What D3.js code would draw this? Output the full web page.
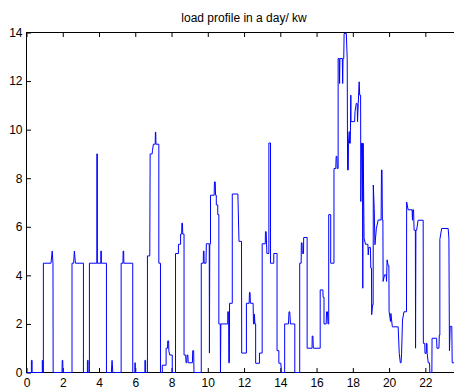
<!DOCTYPE html>
<html>
<head>
<meta charset="utf-8">
<script src="https://cdn.jsdelivr.net/npm/d3@7"></script>
<style>
  html, body { margin: 0; padding: 0; background: #fff; overflow: hidden; }
  svg { display: block; }
  text { font-family: "Liberation Sans", Arial, sans-serif; font-size: 12px; fill: #000; }
</style>
</head>
<body>
<svg id="chart" width="454" height="389"></svg>
<script>
// Title and axis ticks
const chartTitle = "load profile in a day/ kw";
const xTickValues = [0, 2, 4, 6, 8, 10, 12, 14, 16, 18, 20, 22];
const yTickValues = [0, 2, 4, 6, 8, 10, 12, 14];

// Load over the day: [hour, kW] breakpoints, joined by straight segments
const profileKw = [
  [0,0],
  [0.27,0],[0.27,0.5],[0.31,0.5],[0.31,0],
  [0.87,0],[0.87,0.5],[0.9,0.5],[0.9,0],
  [0.93,0],[0.93,4.5],
  [1.35,4.5],[1.42,5.0],[1.46,4.5],[1.47,0],
  [1.96,0],[1.97,0.5],[2.0,0.5],[2.01,0],
  [2.51,0],[2.51,4.5],[2.6,4.5],[2.64,5.0],[2.7,4.5],[3.14,4.5],[3.14,0],
  [3.36,0],[3.36,0.5],[3.4,0.5],[3.4,0],[3.47,0],[3.47,4.5],
  [3.88,4.5],[3.88,9.0],[3.91,9.0],[3.91,4.5],
  [4.1,4.5],[4.1,5.0],[4.13,5.0],[4.13,4.5],
  [4.41,4.5],[4.41,0],
  [4.68,0],[4.72,0.5],[4.76,0],
  [5.22,0],[5.22,4.5],[5.32,4.5],[5.33,5.0],[5.36,5.0],[5.37,4.5],[5.86,4.5],[5.86,0],
  [5.98,0],[5.98,0.4],[6.0,0.4],[6.0,0],
  [6.53,0],[6.53,0.5],[6.57,0.5],[6.57,0],
  [6.67,0],[6.67,4.8],[6.8,4.8],[6.82,9.0],[6.93,9.0],[6.95,9.15],[7.0,9.4],[7.1,9.4],[7.11,9.9],[7.13,9.9],[7.14,9.4],[7.3,9.4],[7.3,4.5],[7.39,4.5],[7.39,0],
  [7.49,0],[7.49,0.3],[7.7,0.3],[7.7,1.0],[7.78,1.0],[7.79,1.3],[7.84,1.3],[7.85,0.9],[7.9,0.72],[8.04,0.72],[8.04,0],
  [8.22,0],[8.22,4.9],[8.38,4.9],[8.38,5.28],[8.5,5.28],[8.5,5.7],[8.56,5.7],[8.57,6.15],[8.6,6.15],[8.62,5.7],[8.69,5.7],[8.69,0.72],
  [8.78,0.72],[8.8,0.4],[8.84,0.4],[8.86,0.72],[8.9,0.72],[8.92,0.4],[9.15,0.4],[9.17,0.9],[9.22,0.9],[9.24,0],
  [9.64,0],[9.64,4.5],[9.75,4.5],[9.76,5.0],[9.79,5.0],[9.8,4.5],[9.9,4.5],[9.92,5.3],[10.08,5.3],[10.09,0.8],[10.11,5.3],[10.15,5.3],[10.15,7.3],
  [10.35,7.3],[10.37,7.85],[10.41,7.85],[10.43,7.3],[10.47,7.3],[10.47,6.9],[10.55,6.9],[10.55,6.5],[10.61,6.5],[10.61,2.0],
  [10.69,2.0],[10.7,0],[10.72,2.0],[11.1,2.0],[11.1,2.5],[11.15,2.5],[11.16,0.4],[11.19,0.4],[11.2,2.85],[11.35,2.85],[11.35,7.35],
  [11.66,7.35],[11.72,5.4],[11.86,5.4],[11.87,0.8],
  [12.13,0.8],[12.13,2.85],[12.28,2.85],[12.3,3.3],[12.33,3.3],[12.35,2.85],[12.5,2.85],[12.52,2.0],[12.56,2.0],[12.57,2.4],[12.6,2.0],[12.64,2.0],[12.64,0.38],
  [12.85,0.38],[12.85,0.8],[13.0,0.8],[13.0,5.3],[13.17,5.3],[13.18,5.8],[13.22,5.8],[13.26,4.9],[13.37,4.9],[13.37,9.45],[13.46,9.45],[13.46,4.5],
  [13.64,4.5],[13.64,4.9],[13.82,4.9],[13.82,0.9],[13.92,0.9],[13.92,0.38],[14.03,0.38],[14.06,0],
  [14.24,0],[14.24,2.0],[14.45,2.0],[14.48,2.5],[14.52,2.5],[14.56,2.0],[14.8,2.0],[14.8,0],
  [15.07,0],[15.07,4.5],[15.15,4.5],[15.16,5.34],[15.2,5.34],[15.21,4.9],[15.28,4.9],[15.29,5.56],[15.48,5.56],[15.48,1.0],
  [15.75,1.0],[15.76,1.5],[15.8,1.5],[15.82,1.0],[16.2,1.0],[16.2,3.4],[16.35,3.4],[16.36,3.1],[16.41,3.1],[16.41,2.0],
  [16.53,2.0],[16.55,2.5],[16.6,2.5],[16.63,2.0],[16.67,2.0],[16.67,6.5],[16.78,6.5],[16.78,4.5],[16.96,4.5],[16.96,8.4],
  [17.06,8.4],[17.08,8.9],[17.12,8.9],[17.14,8.4],[17.19,8.4],[17.19,12.93],[17.25,12.93],[17.27,11.9],[17.29,12.93],
  [17.42,12.93],[17.44,11.9],[17.46,12.93],[17.5,12.93],[17.52,13.96],[17.64,13.96],[17.69,12.93],[17.71,8.34],
  [17.75,8.34],[17.76,9.44],[17.8,9.92],[17.82,9.44],[17.86,9.44],[17.89,11.42],[17.9,10.33],[18.1,10.33],[18.12,10.74],
  [18.19,11.08],[18.24,11.08],[18.26,10.33],[18.3,11.08],[18.35,11.97],[18.38,11.42],[18.43,11.42],[18.44,7.04],
  [18.48,9.44],[18.53,9.44],[18.55,3.47],[18.57,9.44],[18.62,5.53],[18.7,5.28],[18.83,5.28],[18.85,4.84],[18.88,5.15],
  [18.97,5.15],[18.99,4.3],[19.03,4.3],[19.04,2.38],[19.09,2.79],[19.12,2.79],[19.13,7.72],[19.18,6.76],[19.22,5.26],
  [19.3,5.94],[19.4,6.28],[19.56,6.28],[19.58,8.34],[19.61,8.34],[19.63,6.28],[19.66,6.28],[19.67,3.75],[19.75,4.02],
  [19.84,4.02],[19.86,3.75],[19.89,4.64],[19.95,4.4],[19.99,4.4],[20.0,2.52],[20.08,2.1],[20.1,2.43],[20.18,1.88],
  [20.5,1.88],[20.56,0.79],[20.62,0.4],[20.66,0.4],[20.69,0.79],[20.74,2.16],[20.82,2.5],[20.96,2.5],[20.97,7.02],
  [21.05,6.7],[21.27,6.7],[21.29,6.27],[21.31,6.7],[21.35,6.7],[21.38,5.86],[21.45,5.86],[21.46,1.0],[21.48,5.86],
  [21.52,5.86],[21.6,6.27],[21.88,6.27],[21.89,1.2],[21.97,1.2],[21.98,0.79],[22.05,0.79],[22.06,1.2],[22.09,1.2],
  [22.1,0.79],[22.16,0.4],[22.23,0.4],[22.25,0],[22.36,0],[22.37,1.41],[22.62,1.41],[22.64,1.0],[22.75,1.0],
  [22.77,1.54],[22.8,1.54],[22.8,5.48],[22.9,5.93],[23.26,5.93],[23.3,5.5],[23.33,0.9],[23.37,1.9],[23.46,1.9],
  [23.48,0.4],[24,0.4]
];

const svg = d3.select("#chart");
const box = { left: 26.5, right: 461.6, top: 32.5, bottom: 372.5 };

const x = d3.scaleLinear().domain([0, 24]).range([box.left, box.right]);
const y = d3.scaleLinear().domain([0, 14]).range([box.bottom, box.top]);

// Title
svg.append("text")
  .attr("x", (box.left + box.right) / 2)
  .attr("y", 22)
  .attr("text-anchor", "middle")
  .text(chartTitle);

// Axes with inward ticks on all four sides
const tick = 4.5;
const gx = svg.append("g").attr("transform", `translate(0,${box.bottom})`)
  .call(d3.axisBottom(x).tickValues(xTickValues).tickSizeInner(-tick).tickSizeOuter(0).tickPadding(5.5));
const gxTop = svg.append("g").attr("transform", `translate(0,${box.top})`)
  .call(d3.axisTop(x).tickValues(xTickValues).tickSizeInner(-tick).tickSizeOuter(0).tickFormat(""));
const gy = svg.append("g").attr("transform", `translate(${box.left},0)`)
  .call(d3.axisLeft(y).tickValues(yTickValues).tickSizeInner(-tick).tickSizeOuter(0).tickPadding(4));
const gyRight = svg.append("g").attr("transform", `translate(${box.right},0)`)
  .call(d3.axisRight(y).tickValues(yTickValues).tickSizeInner(-tick).tickSizeOuter(0).tickFormat(""));

[gx, gxTop, gy, gyRight].forEach(g => {
  g.select(".domain").remove();
  g.selectAll("line").attr("stroke", "#000").attr("stroke-width", 1);
  g.selectAll("text").attr("font-family", '"Liberation Sans", Arial, sans-serif').attr("font-size", 12).attr("fill", "#000");
});

// Frame
svg.append("rect")
  .attr("x", box.left).attr("y", box.top)
  .attr("width", box.right - box.left).attr("height", box.bottom - box.top)
  .attr("fill", "none").attr("stroke", "#000").attr("stroke-width", 1);

// Load curve
const line = d3.line().x(d => x(d[0])).y(d => y(d[1]));
svg.append("path")
  .datum(profileKw)
  .attr("d", line)
  .attr("fill", "none")
  .attr("stroke", "#0000ff")
  .attr("stroke-width", 1)
  .attr("stroke-linejoin", "miter");
</script>
</body>
</html>
